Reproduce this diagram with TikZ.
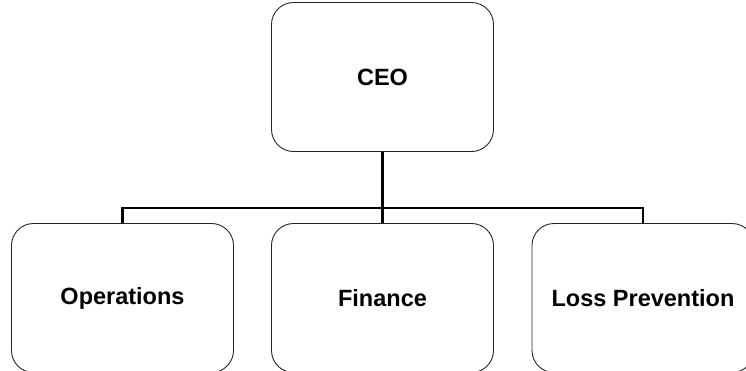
\documentclass[tikz,border=0pt]{standalone}
\usepackage{fontspec}
\setmainfont{Liberation Sans}

\begin{document}
\begin{tikzpicture}[x=1pt, y=-1pt,
        orgbox/.style={rectangle, rounded corners=22pt, draw=black!85, line width=0.9pt,
                minimum width=222pt, minimum height=149pt,
                font=\fontsize{23.5}{28}\selectfont\bfseries}]
        \useasboundingbox (0,0) rectangle (746,370);
        \clip (0,0) rectangle (746,370);
        \node [orgbox] at (382.5, 77)  (ceo)  {CEO};
        \node [orgbox] at (122.5, 298) (ops)  {Operations};
        \node [orgbox] at (382.5, 298) (fin)  {Finance};
        \node [orgbox] at (643, 298)   (loss) {Loss Prevention};
        \coordinate (bus) at (382.5, 208);
        \draw[line width=2.6pt]
            (ceo.south) -- (fin.north)
            (ops.north) |- (bus) -| (loss.north);
    \end{tikzpicture}
\end{document}
